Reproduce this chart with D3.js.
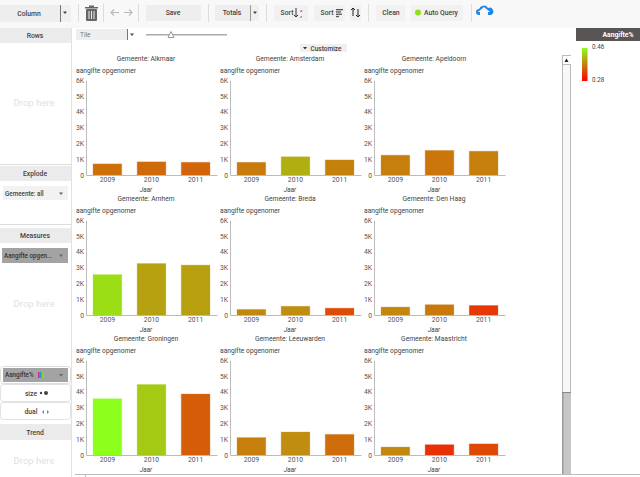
<!DOCTYPE html>
<html>
<head>
<meta charset="utf-8">
<script src="https://cdn.jsdelivr.net/npm/d3@7"></script>
<style>
  html, body { margin: 0; padding: 0; background: #fff; overflow: hidden; }
  text { font-family: Roboto, sans-serif; }
</style>
</head>
<body>
<svg id="chart" width="640" height="477"></svg>
<script>
const municipalities = ["Alkmaar", "Amsterdam", "Apeldoorn", "Arnhem", "Breda", "Den Haag", "Groningen", "Leeuwarden", "Maastricht"];
const years = ["2009", "2010", "2011"];
const yTicks = [0, 1000, 2000, 3000, 4000, 5000, 6000];

// aangifte opgenomen per gemeente, one entry per year
const alkmaar = [700, 830, 800];
const amsterdam = [800, 1150, 950];
const apeldoorn = [1250, 1550, 1500];
const arnhem = [2550, 3250, 3150];
const breda = [350, 550, 430];
const denHaag = [500, 650, 600];
const groningen = [3550, 4450, 3850];
const leeuwarden = [1100, 1450, 1300];
const maastricht = [500, 650, 700];
const amounts = [alkmaar, amsterdam, apeldoorn, arnhem, breda, denHaag, groningen, leeuwarden, maastricht];

// aangifte% per gemeente, drives the colour
const pctAlkmaar = [0.352, 0.348, 0.343];
const pctAmsterdam = [0.361, 0.399, 0.366];
const pctApeldoorn = [0.363, 0.357, 0.363];
const pctArnhem = [0.435, 0.39, 0.388];
const pctBreda = [0.37, 0.375, 0.325];
const pctDenHaag = [0.37, 0.359, 0.31];
const pctGroningen = [0.46, 0.42, 0.338];
const pctLeeuwarden = [0.363, 0.374, 0.35];
const pctMaastricht = [0.37, 0.305, 0.323];
const percents = [pctAlkmaar, pctAmsterdam, pctApeldoorn, pctArnhem, pctBreda, pctDenHaag, pctGroningen, pctLeeuwarden, pctMaastricht];

const pctRange = [0.28, 0.46];

const svg = d3.select("#chart");
const defs = svg.append("defs");

const color = d3.scaleLinear().domain(pctRange).range(["#f81000", "#8cff1a"]);
const x = d3.scaleBand().domain(years).range([86, 217]).paddingInner(0.35).paddingOuter(0.16);
const y = d3.scaleLinear().domain([0, 6000]).range([95, 0]);

function label(parent, px, py, str, opts = {}) {
  return parent.append("text")
    .attr("x", px).attr("y", py)
    .attr("text-anchor", opts.anchor || "middle")
    .attr("font-size", opts.size || 7)
    .attr("font-weight", opts.weight || "normal")
    .attr("fill", opts.fill || "#444")
    .text(str);
}

function box(parent, px, py, w, h, fill, rx) {
  return parent.append("rect")
    .attr("x", px).attr("y", py).attr("width", w).attr("height", h)
    .attr("rx", rx || 0).attr("fill", fill);
}

function vline(parent, px, y0, y1, col) {
  parent.append("line").attr("x1", px).attr("x2", px).attr("y1", y0).attr("y2", y1)
    .attr("stroke", col || "#ccc");
}

function caret(parent, cx, cy, col) {
  parent.append("path")
    .attr("d", `M${cx - 2},${cy - 1}L${cx + 2},${cy - 1}L${cx},${cy + 1.5}Z`)
    .attr("fill", col || "#444");
}

// toolbar
const bar = svg.append("g");
box(bar, 0, 0, 640, 28, "#f8f8f8");
box(bar, 0, 5, 60, 17, "#eeeeee");
label(bar, 29, 15.5, "Column", { size: 6.8, weight: 500 });
box(bar, 61, 5, 10, 17, "#f0f0f0");
vline(bar, 60.5, 5, 22, "#777");
caret(bar, 65, 12.5);
[78, 103, 138, 208, 266, 368, 471].forEach(px => vline(bar, px + 0.5, 4, 22, "#ddd"));

// trash can
box(bar, 86, 9, 11, 12, "#666", 1);
box(bar, 85, 7, 13, 1.5, "#666");
box(bar, 89, 5.5, 5, 1.5, "#666");
[88.5, 91, 93.5].forEach(px => box(bar, px, 11, 1, 8, "#eee"));

// undo and redo arrows
[[119, 111], [124, 132]].forEach(([tail, head]) => {
  const dir = head > tail ? -3 : 3;
  bar.append("path")
    .attr("d", `M${tail},12.5H${head}M${head + dir},9.5L${head},12.5L${head + dir},15.5`)
    .attr("fill", "none").attr("stroke", "#bbb").attr("stroke-width", 1.2);
});

box(bar, 146, 5, 55, 16, "#eeeeee");
label(bar, 173, 15, "Save", { size: 6.8, weight: 500 });
box(bar, 215, 5, 35, 16, "#eeeeee");
label(bar, 232, 15, "Totals", { size: 6.8, weight: 500 });
box(bar, 251, 5, 8, 16, "#f0f0f0");
vline(bar, 250.5, 5, 21, "#999");
caret(bar, 255, 12.5);

box(bar, 274, 5, 34, 16, "#f1f1f1");
label(bar, 287, 15, "Sort", { size: 6.8, weight: 500 });
bar.append("path").attr("d", "M296,8V17M294,15L296,17L298,15").attr("fill", "none").attr("stroke", "#333");
label(bar, 301, 12, "a", { size: 4 });
label(bar, 301, 17.5, "z", { size: 4 });
box(bar, 314, 5, 31, 16, "#f1f1f1");
label(bar, 327, 15, "Sort", { size: 6.8, weight: 500 });
[7, 5, 6, 3].forEach((w, i) => box(bar, 336, 9 + i * 2.3, w, 1.3, "#555"));
box(bar, 350, 5, 11, 16, "#f1f1f1");
bar.append("path").attr("d", "M353,16V8M351,10L353,8L355,10M358,9V17M356,15L358,17L360,15")
  .attr("fill", "none").attr("stroke", "#222").attr("stroke-width", 1);

box(bar, 376, 5, 29, 16, "#f1f1f1");
label(bar, 391, 15, "Clean", { size: 6.8, weight: 500 });
box(bar, 411, 5, 52, 16, "#f1f1f1");
bar.append("circle").attr("cx", 418).attr("cy", 12.5).attr("r", 3).attr("fill", "#8fe01a");
label(bar, 441, 15, "Auto Query", { size: 6.8, weight: 500 });

// cloud upload icon
bar.append("path")
  .attr("d", "M479,15a3,3 0 0 1 0,-6a5,5 0 0 1 9,-1a3.5,3.5 0 0 1 3,7h-3v-3h2l-6,-5l-6,5h2v3Z")
  .attr("fill", "#1e88e5");

// left panel
const side = svg.append("g");
vline(side, 71.5, 28, 477, "#e2e2e2");
function header(py, h, str) {
  box(side, 0, py, 71, h, "#ebebeb");
  label(side, 35, py + h / 2 + 2.5, str, { size: 6.8, weight: 500 });
}
function dropHere(py) {
  label(side, 34, py, "Drop here", { size: 9.5, fill: "#dfdfdf" });
}
header(28, 15, "Rows");
dropHere(106);
box(side, 0, 164, 71, 1, "#ddd");
header(166, 15, "Explode");
box(side, 3, 186, 65, 14, "#f2f2f2");
label(side, 5, 195.5, "Gemeente: all", { size: 6.3, anchor: "start", weight: 500 });
caret(side, 61, 193.5, "#666");
box(side, 0, 224, 71, 1, "#ddd");
header(228, 15, "Measures");
box(side, 2, 248, 66, 15, "#a3a3a3");
label(side, 4, 257.5, "Aangifte opgen...", { size: 6.3, anchor: "start", weight: 500, fill: "#333" });
caret(side, 61, 255.5, "#666");
dropHere(307);

side.append("rect").attr("x", 0.5).attr("y", 366.5).attr("width", 70).attr("height", 17)
  .attr("rx", 3).attr("fill", "#fff").attr("stroke", "#ddd");
box(side, 3, 368, 65, 14, "#a3a3a3");
label(side, 5, 377, "Aangifte%", { size: 6.3, anchor: "start", weight: 500, fill: "#333" });
[["#e0208a", 38], ["#20a0e0", 40], ["#80e020", 42]].forEach(([c, px]) => box(side, px, 372, 1.6, 6, c));
caret(side, 61, 375, "#666");
[[384.5, "size"], [402.5, "dual"]].forEach(([py, str]) => {
  side.append("rect").attr("x", 0.5).attr("y", py).attr("width", 70).attr("height", 17)
    .attr("rx", 3).attr("fill", "#fff").attr("stroke", "#e2e2e2");
  label(side, 31, py + 11, str, { size: 6.8, weight: 500 });
});
side.append("circle").attr("cx", 41).attr("cy", 393).attr("r", 1.2).attr("fill", "#444");
side.append("circle").attr("cx", 46).attr("cy", 393).attr("r", 2).attr("fill", "#444");
side.append("path").attr("d", "M44,410L42,412L44,414ZM47,410L49,412L47,414Z").attr("fill", "#4a90e2");
header(424, 16, "Trend");
dropHere(464);

// tile selector, slider, customize
const tileBar = svg.append("g");
box(tileBar, 76, 29, 51, 11, "#eeeeee");
label(tileBar, 80, 37, "Tile", { size: 6.5, anchor: "start", fill: "#777" });
vline(tileBar, 127.5, 29, 40, "#777");
caret(tileBar, 132, 34.5);
box(tileBar, 146, 34, 81, 1.5, "#aaa");
tileBar.append("path").attr("d", "M171,31.5L174,37.5H168Z").attr("fill", "#fff").attr("stroke", "#999");
box(tileBar, 300, 44, 47, 8, "#f0f0f0");
caret(tileBar, 305, 48, "#333");
label(tileBar, 326, 50.5, "Customize", { size: 6.5, weight: 500 });

// small multiples
const panels = svg.selectAll("g.panel")
  .data(municipalities)
  .join("g")
  .attr("class", "panel")
  .attr("transform", (d, i) => `translate(${(i % 3) * 144},${Math.floor(i / 3) * 140})`);

defs.append("clipPath").attr("id", "title-clip")
  .append("rect").attr("x", 75).attr("y", 64).attr("width", 61).attr("height", 12);

panels.each(function (name, i) {
  const g = d3.select(this);
  const plot = g.append("g").attr("transform", "translate(0,80)");

  label(g, 146, 61, "Gemeente: " + name, { size: 6.7 });
  label(g, 76, 73, "aangifte opgenomen", { size: 6.7, anchor: "start" })
    .attr("clip-path", "url(#title-clip)");

  const rows = years.map((year, j) => ({ year, value: amounts[i][j], pct: percents[i][j] }));

  plot.selectAll("rect")
    .data(rows)
    .join("rect")
    .attr("x", d => x(d.year))
    .attr("y", d => y(d.value))
    .attr("width", x.bandwidth())
    .attr("height", d => y(0) - y(d.value))
    .attr("fill", d => color(d.pct))
    .attr("stroke", d => color(d.pct))
    .attr("stroke-opacity", 0.3);

  const yAxis = plot.append("g")
    .attr("transform", "translate(86,0)")
    .call(d3.axisLeft(y).tickValues(yTicks).tickSize(0).tickPadding(2)
      .tickFormat(d => d === 0 ? "0" : d / 1000 + "K"));
  const xAxis = plot.append("g")
    .attr("transform", `translate(0,${y(0)})`)
    .call(d3.axisBottom(x).tickSize(0).tickPadding(2));

  [yAxis, xAxis].forEach(a => {
    a.select(".domain").attr("stroke", "#bbb");
    a.selectAll("text").attr("font-size", 6.8).attr("font-family", "Roboto, sans-serif").attr("fill", "#555");
  });

  label(plot, 146, 111.5, "Jaar", { size: 6.5 }).attr("font-style", "italic");
});

// scrollbar
const scrollBar = svg.append("g");
scrollBar.append("rect").attr("x", 562.5).attr("y", 55.5).attr("width", 8).attr("height", 418)
  .attr("fill", "#f8f8f8").attr("stroke", "#bbb");
box(scrollBar, 563, 56, 8, 9, "#fff");
scrollBar.append("line").attr("x1", 562).attr("x2", 571).attr("y1", 64.5).attr("y2", 64.5).attr("stroke", "#bbb");
scrollBar.append("path").attr("d", "M564.5,62L566.5,58.5L568.5,62Z").attr("fill", "#222");
box(scrollBar, 562, 392, 9, 82, "#c6c6c6");
box(scrollBar, 562, 392, 1.5, 82, "#999");
box(scrollBar, 562, 392, 9, 1, "#888");

svg.append("line").attr("x1", 75).attr("x2", 640).attr("y1", 474.5).attr("y2", 474.5).attr("stroke", "#bbb");
vline(svg, 85.5, 474, 477, "#bbb");

// colour legend
const legend = svg.append("g");
box(legend, 576, 28, 64, 13, "#5a5555");
label(legend, 618, 37, "Aangifte%", { size: 6.8, weight: 700, fill: "#fff" });
const grad = defs.append("linearGradient").attr("id", "pct-grad")
  .attr("x1", 0).attr("x2", 0).attr("y1", 0).attr("y2", 1);
grad.append("stop").attr("offset", "0%").attr("stop-color", color(pctRange[1]));
grad.append("stop").attr("offset", "100%").attr("stop-color", "#ff0000");
box(legend, 582, 48, 5.5, 33, "url(#pct-grad)");
label(legend, 592, 49, pctRange[1].toFixed(2), { size: 6.3, anchor: "start" });
label(legend, 592, 81.5, pctRange[0].toFixed(2), { size: 6.3, anchor: "start" });
</script>
</body>
</html>
